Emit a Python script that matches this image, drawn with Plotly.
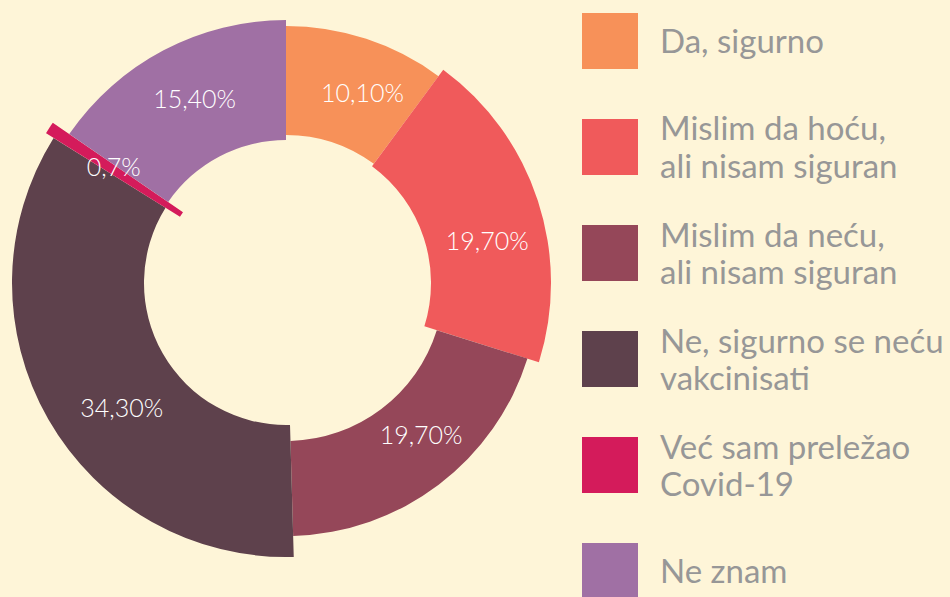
import plotly.graph_objects as go

# survey answers, clockwise from the top
categories = [
    "Da, sigurno",
    "Mislim da hoću,\nali nisam siguran",
    "Mislim da neću,\nali nisam siguran",
    "Ne, sigurno se neću\nvakcinisati",
    "Već sam preležao\nCovid-19",
    "Ne znam",
]
values = [10.1, 19.7, 19.7, 34.3, 0.7, 15.4]
pct_labels = ["10,10%", "19,70%", "19,70%", "34,30%", "0,7%", "15,40%"]

colors = ["#F79159", "#F05A5B", "#954759", "#5E414C", "#D41B5B", "#A070A4"]
bg = "#FEF5D8"

# ring geometry per slice (in px of the 950x597 canvas)
inner_px = [148, 145, 158, 142, 125, 143]
outer_px = [257, 265, 253, 274, 287, 263]
# small hand nudges of the labels around the ring (degrees)
label_nudge = [4, 7, -4, -8, 0, 1]
R_PX = 283
R_MAX = 290
k = R_MAX / R_PX

# angles from the values, normalised to the full circle like a pie
total = sum(values)
mids, widths = [], []
acc = 0
for v in values:
    mids.append((acc + v / 2) / total * 360)
    widths.append(v / total * 360)
    acc += v

base = [i * k for i in inner_px]
thick = [(o - i) * k for i, o in zip(inner_px, outer_px)]
text_r = [(i + o) / 2 * k for i, o in zip(inner_px, outer_px)]
text_theta = [m + d for m, d in zip(mids, label_nudge)]

fig = go.Figure()
fig.add_trace(go.Barpolar(
    theta=mids, width=widths, base=base, r=thick,
    marker=dict(color=colors, line=dict(width=0)),
    hoverinfo="skip", showlegend=False,
))
fig.add_trace(go.Scatterpolar(
    theta=text_theta, r=text_r, mode="text", text=pct_labels,
    textfont=dict(family="Lato", size=25, color="white", weight=300),
    hoverinfo="skip", showlegend=False,
))

W, H = 950, 597
cx, cy = 286, 283
fig.update_layout(
    width=W, height=H,
    margin=dict(l=0, r=0, t=0, b=0),
    paper_bgcolor=bg, plot_bgcolor=bg,
    polar=dict(
        domain=dict(x=[(cx - R_PX) / W, (cx + R_PX) / W],
                    y=[(H - cy - R_PX) / H, (H - cy + R_PX) / H]),
        bgcolor="rgba(0,0,0,0)",
        radialaxis=dict(visible=False, range=[0, R_MAX]),
        angularaxis=dict(visible=False, rotation=90, direction="clockwise"),
    ),
)

# hand-drawn legend: big squares with grey labels
box = 56
top0 = 13
step = 106
for n, (name, c) in enumerate(zip(categories, colors)):
    y0 = top0 + n * step
    fig.add_shape(type="rect", xref="paper", yref="paper",
                  x0=582 / W, x1=(582 + box) / W,
                  y0=1 - (y0 + box) / H, y1=1 - y0 / H,
                  fillcolor=c, line=dict(width=0))
    lines = name.split("\n")
    centre = y0 + box / 2 - 1
    offs = [0] if len(lines) == 1 else [-18.5, 18.5]
    for line, off in zip(lines, offs):
        fig.add_annotation(xref="paper", yref="paper",
                           x=658 / W, y=1 - (centre + off) / H,
                           xanchor="left", yanchor="middle",
                           text=line, showarrow=False,
                           font=dict(family="Lato", size=33, color="#979797"))

fig.write_html("out.html", config={"displayModeBar": False},
               post_script="document.body.style.margin='0';")
